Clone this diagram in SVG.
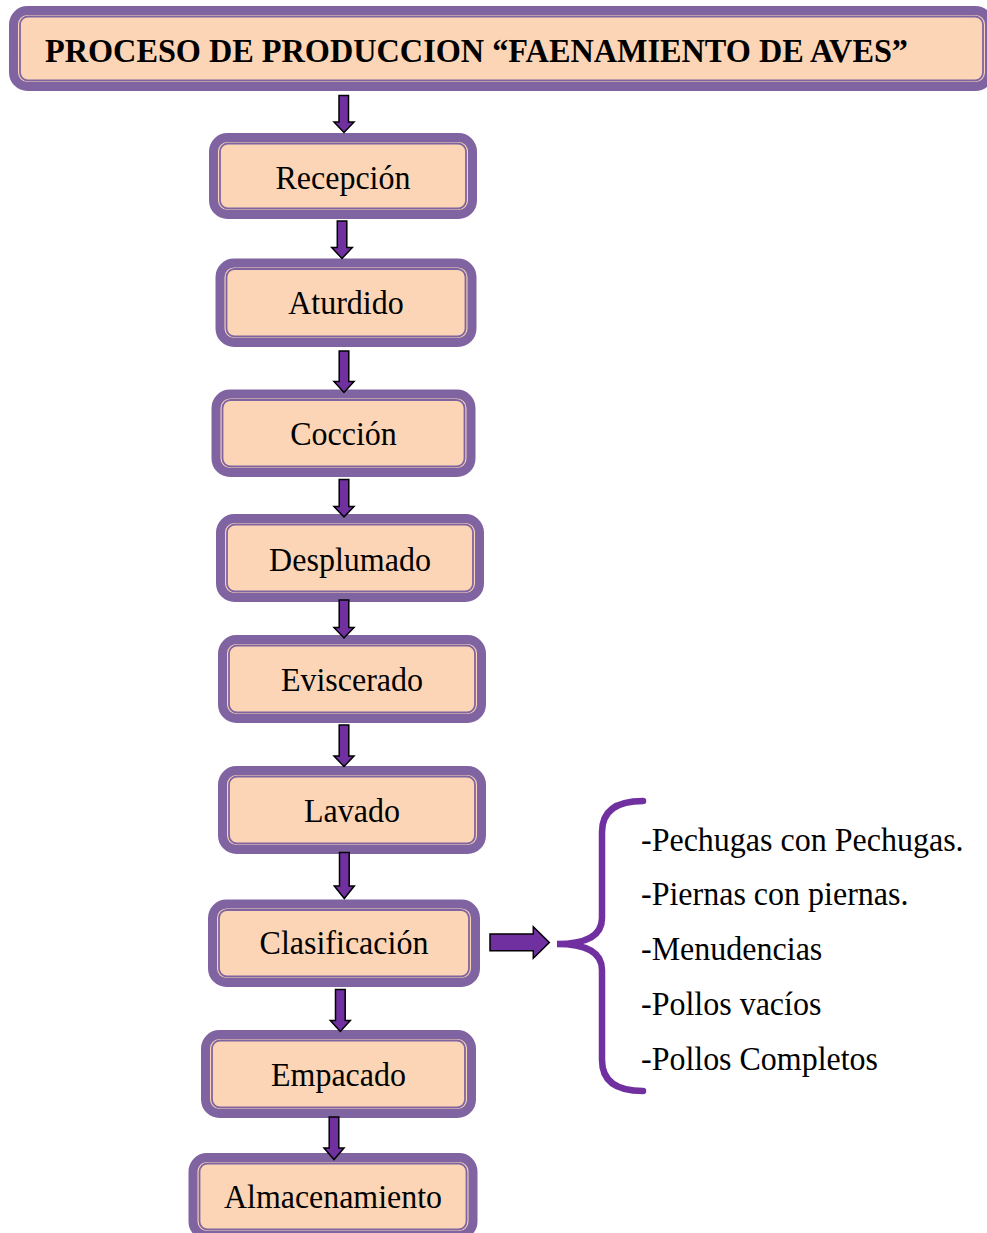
<svg xmlns="http://www.w3.org/2000/svg" width="987" height="1233" viewBox="0 0 987 1233">
<style>
.outer{fill:#FBD5B5;stroke:#8064A2;stroke-width:9}
.inner{fill:none;stroke:#8064A2;stroke-width:1.8}
.lbl{font-family:"Liberation Serif","Times New Roman",serif;font-size:34px;fill:#000;text-anchor:middle}
.title{font-family:"Liberation Serif","Times New Roman",serif;font-size:34px;font-weight:bold;fill:#000}
.item{font-family:"Liberation Serif","Times New Roman",serif;font-size:34px;fill:#000}
.arr{fill:#7030A0;stroke:#000;stroke-width:1.5;stroke-linejoin:miter}
.brace{fill:none;stroke:#7030A0;stroke-width:6.5;stroke-linecap:round}
</style>
<rect width="987" height="1233" fill="#fff"/>
<g id="title">
<rect class="outer" x="13.5" y="10.5" width="976" height="76" rx="14"/>
<rect class="inner" x="20" y="16.5" width="963" height="64" rx="8"/>
<text class="title" x="45" y="62" textLength="863" lengthAdjust="spacingAndGlyphs">PROCESO DE PRODUCCION “FAENAMIENTO DE AVES”</text>
</g>
<g id="recepcion">
<rect class="outer" x="213.5" y="137.5" width="259" height="77" rx="14"/>
<rect class="inner" x="220" y="143.5" width="246" height="65" rx="8"/>
<text class="lbl" x="343" y="188.5" textLength="135" lengthAdjust="spacingAndGlyphs">Recepción</text>
</g>
<g id="aturdido">
<rect class="outer" x="220" y="263" width="252" height="79.5" rx="14"/>
<rect class="inner" x="226.5" y="269" width="239" height="67.5" rx="8"/>
<text class="lbl" x="346" y="313.5" textLength="115.6" lengthAdjust="spacingAndGlyphs">Aturdido</text>
</g>
<g id="coccion">
<rect class="outer" x="216" y="394" width="255" height="78.5" rx="14"/>
<rect class="inner" x="222.5" y="400" width="242" height="66.5" rx="8"/>
<text class="lbl" x="343.5" y="444.5" textLength="106.7" lengthAdjust="spacingAndGlyphs">Cocción</text>
</g>
<g id="desplumado">
<rect class="outer" x="220.5" y="518.5" width="259" height="79" rx="14"/>
<rect class="inner" x="227" y="524.5" width="246" height="67" rx="8"/>
<text class="lbl" x="350" y="570.5" textLength="161.8" lengthAdjust="spacingAndGlyphs">Desplumado</text>
</g>
<g id="eviscerado">
<rect class="outer" x="222.5" y="639.5" width="259" height="79" rx="14"/>
<rect class="inner" x="229" y="645.5" width="246" height="67" rx="8"/>
<text class="lbl" x="352" y="691" textLength="142.2" lengthAdjust="spacingAndGlyphs">Eviscerado</text>
</g>
<g id="lavado">
<rect class="outer" x="222.5" y="770.5" width="259" height="79" rx="14"/>
<rect class="inner" x="229" y="776.5" width="246" height="67" rx="8"/>
<text class="lbl" x="352" y="822" textLength="96" lengthAdjust="spacingAndGlyphs">Lavado</text>
</g>
<g id="clasificacion">
<rect class="outer" x="212.5" y="904" width="263" height="78.5" rx="14"/>
<rect class="inner" x="219" y="910" width="250" height="66.5" rx="8"/>
<text class="lbl" x="344" y="954" textLength="168.9" lengthAdjust="spacingAndGlyphs">Clasificación</text>
</g>
<g id="empacado">
<rect class="outer" x="205.5" y="1034.5" width="266" height="79" rx="14"/>
<rect class="inner" x="212" y="1040.5" width="253" height="67" rx="8"/>
<text class="lbl" x="338.5" y="1086" textLength="135" lengthAdjust="spacingAndGlyphs">Empacado</text>
</g>
<g id="almacenamiento">
<rect class="outer" x="193" y="1157.5" width="280" height="78" rx="14"/>
<rect class="inner" x="199.5" y="1163.5" width="267" height="66" rx="8"/>
<text class="lbl" x="333" y="1208" textLength="218" lengthAdjust="spacingAndGlyphs">Almacenamiento</text>
</g>
<g id="productos">
<text class="item" x="641" y="850.5" textLength="322.6" lengthAdjust="spacingAndGlyphs">-Pechugas con Pechugas.</text>
<text class="item" x="641" y="905" textLength="267.5" lengthAdjust="spacingAndGlyphs">-Piernas con piernas.</text>
<text class="item" x="641" y="960" textLength="181.3" lengthAdjust="spacingAndGlyphs">-Menudencias</text>
<text class="item" x="641" y="1015" textLength="180.4" lengthAdjust="spacingAndGlyphs">-Pollos vacíos</text>
<text class="item" x="641" y="1070" textLength="237" lengthAdjust="spacingAndGlyphs">-Pollos Completos</text>
</g>
<g id="connectors">
<path class="arr" d="M339,95.5H348.5V122H354L344,132.5L334,122H339Z"/>
<path class="arr" d="M337.3,221H346.8V247.5H352.3L342,258.5L331.7,247.5H337.3Z"/>
<path class="arr" d="M339.2,351H348.8V381.5H354L344,392.5L334,381.5H339.2Z"/>
<path class="arr" d="M339.2,479.5H348.8V506.5H354L344,517L334,506.5H339.2Z"/>
<path class="arr" d="M339.2,600H348.8V627.5H354L344,638L334,627.5H339.2Z"/>
<path class="arr" d="M339.2,725H348.8V756H354L344,766.5L334,756H339.2Z"/>
<path class="arr" d="M339.5,852.5H349.2V886H354.3L344.3,898.5L334.3,886H339.5Z"/>
<path class="arr" d="M335.5,989.5H345.2V1020.5H350.3L340.3,1031.5L330.3,1020.5H335.5Z"/>
<path class="arr" d="M329.2,1117H338.8V1148H344L334,1159.5L324,1148H329.2Z"/>
<path class="arr" d="M490,934H533.3V926.7L549.3,942.5L533.3,958.3V950.7H490Z"/>
<path class="brace" d="M643,801Q602,801 602,832L602,918Q602,944 557,944Q602,944 602,970L602,1060Q602,1091 643,1091"/>
</g>
</svg>
